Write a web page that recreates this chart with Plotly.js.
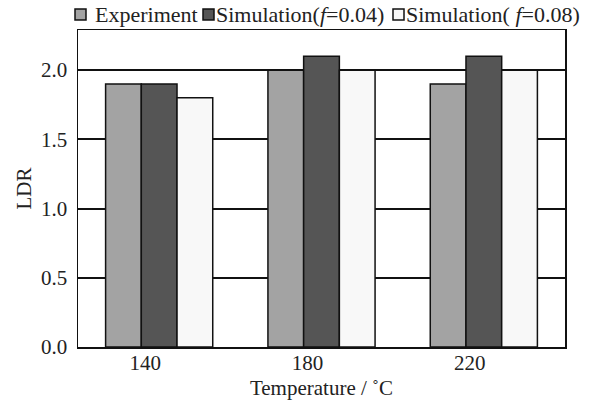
<!DOCTYPE html>
<html><head><meta charset="utf-8">
<script src="https://cdn.plot.ly/plotly-3.0.1.min.js"></script>
<style>body{margin:0;background:#fff}#c{width:595px;height:409px}</style>
</head><body><div id="c"></div>
<script>
const categories = ['140', '180', '220'];
const experiment = [1.9, 2.0, 1.9];
const sim004 = [1.9, 2.1, 2.1];
const sim008 = [1.8, 2.0, 2.0];
const seriesNames = ['Experiment', 'Simulation(<i>f</i>=0.04)', 'Simulation( <i>f</i>=0.08)'];
const colors = ['#a3a3a3', '#555555', '#f8f8f8'];
const yTicks = [0, 0.5, 1.0, 1.5, 2.0];
const yTickLabels = ['0.0', '0.5', '1.0', '1.5', '2.0'];

const W = 595, H = 409;
const M = {l: 78, r: 30, t: 30, b: 62};
const pw = W - M.l - M.r, ph = H - M.t - M.b;
const px2x = px => (px - M.l) / pw;
const py2y = py => (H - M.b - py) / ph;

const series = [experiment, sim004, sim008];
const traces = series.map((vals, i) => ({
  type: 'bar', x: categories, y: vals, name: seriesNames[i],
  marker: {color: colors[i], line: {color: '#111', width: 1.5}}
}));
const family = '"Liberation Serif", "Times New Roman", serif';
const font = {family: family, size: 21, color: '#222'};
const legendFont = {family: family, size: 22, color: '#222'};

// legend drawn manually (square + label), positions in pixels
const legendSq = [75, 203, 393];
const legendTx = [95, 216, 406];
const shapes = [], annotations = [];
seriesNames.forEach((n, i) => {
  shapes.push({type: 'rect', xref: 'paper', yref: 'paper',
    x0: px2x(legendSq[i]), x1: px2x(legendSq[i] + 11), y0: py2y(20), y1: py2y(9),
    fillcolor: colors[i], line: {color: '#111', width: 1.5}});
  annotations.push({xref: 'paper', yref: 'paper', x: px2x(legendTx[i] - 1), y: py2y(14),
    xanchor: 'left', yanchor: 'middle', text: n, showarrow: false, font: legendFont,
    borderpad: 0});
});

Plotly.newPlot('c', traces, {
  width: W, height: H,
  margin: Object.assign({autoexpand: false}, M),
  paper_bgcolor: '#fff', plot_bgcolor: '#fff',
  font: font,
  barmode: 'group', bargap: 0.34, bargroupgap: 0,
  showlegend: false,
  shapes: shapes, annotations: annotations,
  xaxis: {type: 'category', showline: true, linecolor: '#111', linewidth: 1.5, mirror: true,
    ticks: '', showgrid: false, tickfont: font, ticklabelshift: -14, ticklabelstandoff: -4,
    title: {text: 'Temperature / ˚C', font: font, standoff: 6}},
  yaxis: {range: [0, 2.29], showline: true, linecolor: '#111', linewidth: 1.5, mirror: true,
    tickvals: yTicks, ticktext: yTickLabels, ticks: '', showgrid: true, gridcolor: '#111', gridwidth: 2,
    zeroline: false, tickfont: font, ticklabelstandoff: 5,
    title: {text: 'LDR', font: font, standoff: 3}}
}, {displayModeBar: false, staticPlot: true});
</script></body></html>
